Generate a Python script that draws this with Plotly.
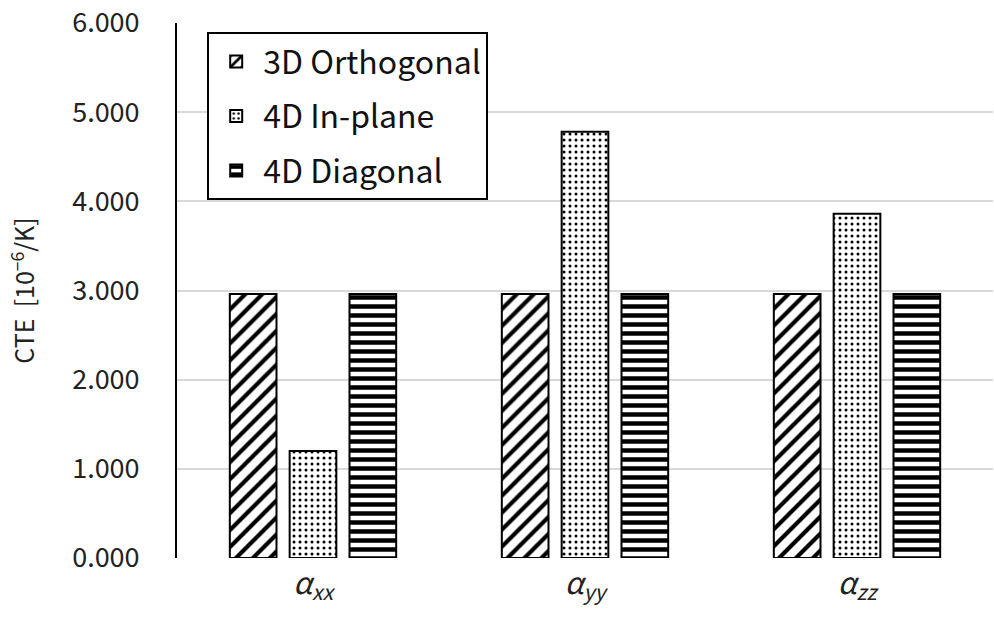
import plotly.graph_objects as go

categories = ["<i>α<sub>xx</sub></i>", "<i>α<sub>yy</sub></i>", "<i>α<sub>zz</sub></i>"]
series_names = ["3D Orthogonal", "4D In-plane", "4D Diagonal"]
orthogonal = [2.96, 2.96, 2.96]
inplane = [1.20, 4.78, 3.86]
diagonal = [2.96, 2.96, 2.96]
y_ticks = [0, 1, 2, 3, 4, 5, 6]
y_tick_labels = ["0.000", "1.000", "2.000", "3.000", "4.000", "5.000", "6.000"]

FONT = "Noto Sans CJK KR, Noto Sans, sans-serif"

fig = go.Figure()
patterns = [("/", 12, 0.35), (".", 6, 0.2), ("-", 9, 0.5)]
for name, vals, (shape, size, sol) in zip(series_names, [orthogonal, inplane, diagonal], patterns):
    fig.add_trace(go.Bar(
        x=categories, y=vals, name=name, legendgroup=name,
        marker=dict(color="white", line=dict(color="black", width=2),
                    pattern=dict(shape=shape, fgcolor="black", bgcolor="white",
                                 size=size, solidity=sol, fillmode="replace")),
    ))

fig.update_layout(
    width=994, height=628,
    margin=dict(l=177, r=1, t=23, b=70),
    paper_bgcolor="white", plot_bgcolor="white",
    barmode="group", bargap=0.34, bargroupgap=0.22,
    font=dict(family=FONT, color="#222", size=26),
    showlegend=True,
    legend=dict(x=0.037, y=0.983, xanchor="left", yanchor="top",
                bordercolor="black", borderwidth=2, bgcolor="white",
                font=dict(size=32, family=FONT, color="#111"),
                tracegroupgap=10, itemwidth=44),
    yaxis=dict(range=[0, 6], tickvals=y_ticks, ticktext=y_tick_labels,
               showgrid=True, gridcolor="#d9d9d9", gridwidth=1.5,
               showline=True, linecolor="black", linewidth=2,
               ticks="", zeroline=False, ticklabelstandoff=30,
               tickfont=dict(size=27),
               title=dict(text="CTE  [10<sup>−6</sup>/K]", font=dict(size=25), standoff=30)),
    xaxis=dict(range=[-0.5, 2.5], showline=False, ticks="",
               tickfont=dict(size=30), showgrid=False, ticklabelstandoff=5),
)

fig.write_html("out.html")
